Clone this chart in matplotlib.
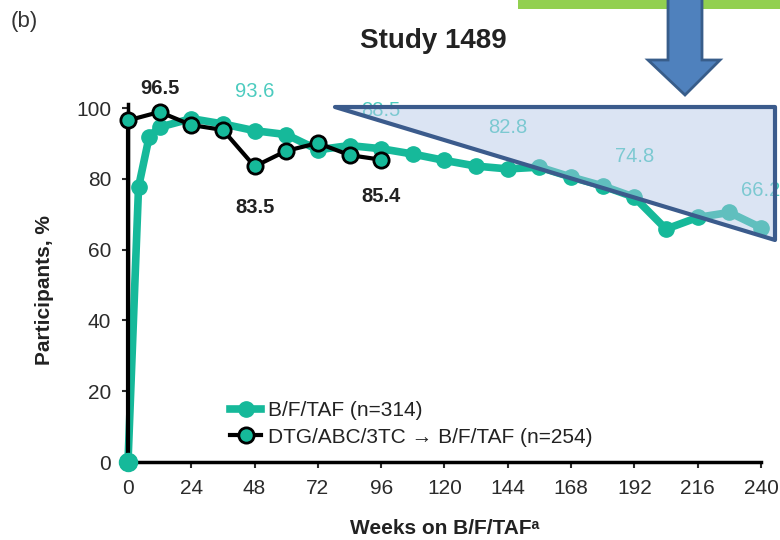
import matplotlib
matplotlib.use("Agg")
import matplotlib.pyplot as plt
from matplotlib.patches import Polygon, Rectangle

plt.rcParams['font.family'] = ['Liberation Sans', 'DejaVu Sans']

# ---------------- data ----------------
weeks_bft = [0, 4, 8, 12, 24, 36, 48, 60, 72, 84, 96, 108, 120, 132, 144,
             156, 168, 180, 192, 204, 216, 228, 240]
pct_bft = [0, 77.7, 91.8, 94.6, 97.0, 95.5, 93.6, 92.5, 88.2, 89.4, 88.5, 87.0,
           85.2, 83.6, 82.8, 83.3, 80.5, 78.0, 74.8, 65.8, 69.1, 70.5, 66.2]

weeks_switch = [0, 0, 12, 24, 36, 48, 60, 72, 84, 96]
pct_switch = [0, 96.5, 98.9, 95.2, 93.8, 83.5, 87.9, 90.1, 86.7, 85.4]

label_bft_weeks = [48, 96, 144, 192, 240]
label_bft_text = ["93.6", "88.5", "82.8", "74.8", "66.2"]
label_bft_y = [104.8, 99.4, 94.4, 86.2, 76.8]

label_sw_weeks = [12, 48, 96]
label_sw_text = ["96.5", "83.5", "85.4"]
label_sw_y = [105.6, 72.0, 74.9]

xticks = list(range(0, 241, 24))
yticks = [0, 20, 40, 60, 80, 100]

teal = "#16b99a"
teal_txt = "#4ccbbf"
dark = "#222222"

fig = plt.figure(figsize=(7.8, 5.4), dpi=100)
ax = fig.add_axes([0.1641, 0.1444, 0.8115, 0.6621])

ax.plot(weeks_bft, pct_bft, color=teal, lw=5.5, marker='o', ms=11,
        mfc=teal, mec=teal, clip_on=False, zorder=3,
        label="B/F/TAF (n=314)")
ax.plot(weeks_switch, pct_switch, color="black", lw=3, marker='o', ms=11,
        mfc=teal, mec="black", mew=2, clip_on=False, zorder=4,
        label="DTG/ABC/3TC \u2192 B/F/TAF (n=254)")
# week-0 teal marker sits on top
ax.plot(weeks_bft[:1], pct_bft[:1], 'o', ms=13, color=teal, clip_on=False, zorder=5)

for w, t, y in zip(label_bft_weeks, label_bft_text, label_bft_y):
    ax.text(w, y, t, color=teal_txt, fontsize=14.5, ha='center', va='center',
            clip_on=False)
for w, t, y in zip(label_sw_weeks, label_sw_text, label_sw_y):
    ax.text(w, y, t, color=dark, fontsize=14.5, fontweight='bold',
            ha='center', va='center', clip_on=False)

ax.set_xlim(0, 240)
ax.set_ylim(0, 101)
ax.set_xticks(xticks)
ax.set_yticks(yticks)
ax.tick_params(labelsize=15, colors="#2b2b2b", length=4, width=1.5)
ax.tick_params(axis='y', pad=8)
ax.tick_params(axis='x', pad=8)
for s in ['top', 'right']:
    ax.spines[s].set_visible(False)
for s in ['left', 'bottom']:
    ax.spines[s].set_linewidth(2.5)
    ax.spines[s].set_color("black")

ax.set_xlabel("Weeks on B/F/TAF\u1d43", fontsize=15, fontweight='bold',
              color=dark)
ax.xaxis.set_label_coords(0.5, -0.16)
ax.set_ylabel("Participants, %", fontsize=15, fontweight='bold', color=dark)
ax.yaxis.set_label_coords(-0.117, 0.48)

leg = ax.legend(loc='lower left', bbox_to_anchor=(0.148, 0.02), frameon=False,
                fontsize=15, handlelength=1.5, handletextpad=0.3,
                labelspacing=0.35, borderaxespad=0)
for t in leg.get_texts():
    t.set_color(dark)

fig.text(433 / 780, 1 - 41 / 540, "Study 1489", fontsize=20, fontweight='bold',
         ha='center', va='center', color=dark)
fig.text(11 / 780, 1 - 22 / 540, "(b)", fontsize=16, ha='left', va='center',
         color="#333333")

# ---------------- overlay annotations (pixel space) ----------------
ov = fig.add_axes([0, 0, 1, 1], zorder=10)
ov.set_xlim(0, 780)
ov.set_ylim(540, 0)
ov.axis('off')
ov.patch.set_alpha(0)

ov.add_patch(Rectangle((518, -2), 264, 11, facecolor="#92d050", edgecolor='none'))
arrow_pts = [(668, -3), (702, -3), (702, 60), (720, 60), (685, 95),
             (648, 60), (668, 60)]
ov.add_patch(Polygon(arrow_pts, closed=True, facecolor="#4f81bd",
                     edgecolor="#385d8a", lw=2))
tri = [(335, 107), (775, 107), (775, 240)]
ov.add_patch(Polygon(tri, closed=True, facecolor="#b4c7e7", alpha=0.47,
                     edgecolor='none'))
ov.add_patch(Polygon(tri, closed=True, facecolor='none', edgecolor="#3b5b8c",
                     lw=3, joinstyle='round'))

fig.savefig("out.png", dpi=100)
